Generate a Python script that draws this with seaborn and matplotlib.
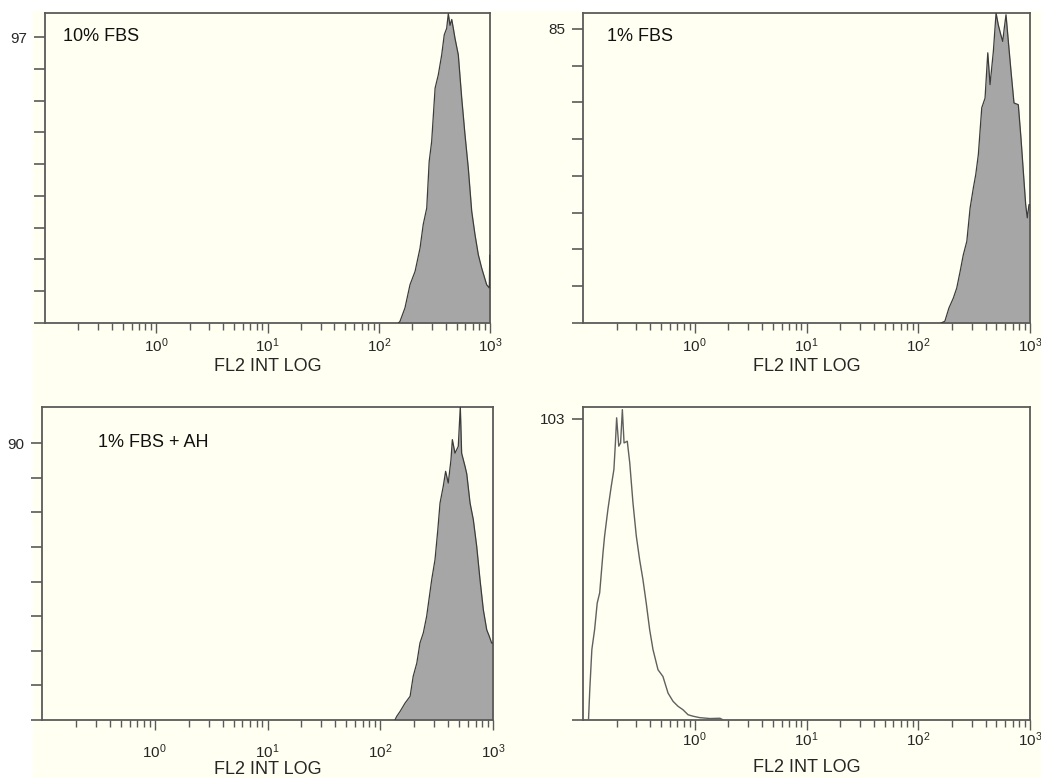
import numpy as np
import matplotlib.pyplot as plt
import matplotlib.ticker as mticker
from matplotlib.patches import Rectangle
import seaborn as sns

sns.set_style("ticks")
plt.rcParams["font.family"] = ["Liberation Sans", "DejaVu Sans"]
plt.rcParams["mathtext.default"] = "regular"

CREAM = "#FFFFF2"
FILL = "#A6A6A6"
EDGE = "#3C3C3C"
SPINE = "#5A5A5A"

# ---- data (FL2 intensity, cell count) ----
fbs10_x = [150, 155, 172, 191, 212, 235, 251, 270, 284, 299, 321, 343, 368,
           388, 408, 422, 437, 453, 468, 484, 519, 557, 596, 638, 685, 733,
           785, 841, 933, 986, 995, 999]
fbs10_y = [0, 0.5, 5.1, 13.0, 17.5, 25.4, 33.4, 39.0, 54.8, 61.6, 79.7, 84.2,
           91.0, 97.8, 100.0, 105.0, 101.0, 103.0, 100.0, 96.7, 91.0, 76.3,
           63.9, 52.6, 37.9, 30.0, 23.2, 18.7, 13.0, 11.9, 23.0, 23.0]

fbs1_x = [160, 173, 188, 206, 221, 237, 253, 272, 291, 311, 327, 345, 370,
          396, 419, 439, 470, 497, 520, 547, 570, 589, 610, 640, 676, 719,
          786, 830, 871, 915, 946, 979, 999]
fbs1_y = [0, 0.5, 4.3, 7.2, 10.1, 14.9, 19.7, 23.6, 33.2, 39.0, 42.9, 48.7,
          62.2, 65.0, 78.1, 68.9, 78.5, 89.6, 86.2, 83.4, 81.4, 85.3, 89.1,
          81.4, 72.8, 63.6, 63.1, 53.5, 43.9, 34.2, 30.4, 34.2, 34.2]

fbs1ah_x = [135, 140, 150, 166, 184, 196, 211, 225, 241, 258, 286, 306, 324,
            339, 362, 380, 401, 424, 436, 460, 492, 513, 527, 565, 585, 626,
            669, 717, 767, 821, 880, 927, 973, 999]
fbs1ah_y = [0, 1.2, 2.8, 5.5, 7.7, 14.2, 18.5, 25.0, 28.3, 33.7, 45.6, 52.1,
            61.8, 70.5, 75.9, 80.8, 77.0, 84.6, 91.1, 86.7, 88.9, 101.9, 86.7,
            82.4, 80.0, 70.5, 65.1, 56.4, 45.6, 35.8, 29.3, 27.2, 25.0, 25.0]

ctrl_x = [0.112, 0.115, 0.120, 0.127, 0.134, 0.141, 0.151, 0.156, 0.167,
          0.179, 0.189, 0.195, 0.200, 0.209, 0.217, 0.225, 0.233, 0.249,
          0.262, 0.280, 0.300, 0.321, 0.344, 0.368, 0.395, 0.423, 0.469,
          0.519, 0.577, 0.639, 0.708, 0.785, 0.871, 0.964, 1.11, 1.37, 1.68,
          1.80]
ctrl_y = [0, 10.4, 24.1, 30.9, 40.0, 43.5, 57.2, 62.9, 72.0, 80.0, 85.7,
          94.8, 103.4, 93.7, 94.8, 106.2, 94.8, 95.4, 88.0, 74.3, 62.9, 54.9,
          48.0, 40.0, 30.9, 24.1, 17.2, 14.9, 9.2, 6.4, 4.7, 3.5, 1.8, 1.3,
          0.8, 0.5, 0.6, 0]

labels = ["10% FBS", "1% FBS", "1% FBS + AH", ""]
ymax_label = [97, 85, 90, 103]
n_yticks = [9, 8, 8, 1]
ytop = [105.2, 89.6, 101.7, 107.1]
filled = [True, True, True, False]
series_x = [fbs10_x, fbs1_x, fbs1ah_x, ctrl_x]
series_y = [fbs10_y, fbs1_y, fbs1ah_y, ctrl_y]
decade_ticks = [1, 10, 100, 1000]
decade_labels = [r"$10^0$", r"$10^1$", r"$10^2$", r"$10^3$"]

W, H = 1041, 778
fig = plt.figure(figsize=(W / 100, H / 100), dpi=100)
fig.patch.set_facecolor("white")
fig.add_artist(Rectangle((33 / W, 0), 1, (H - 11) / H, transform=fig.transFigure,
                         facecolor=CREAM, edgecolor="none", zorder=-10))

# axes boxes in pixels: left, right, top, bottom
boxes = [(45, 490, 13, 323), (583, 1030, 13, 323),
         (42, 493, 407, 720), (583, 1030, 407, 720)]
text_pos = [(0.040, 0.923), (0.054, 0.923), (0.124, 0.885), (0, 0)]
tick_pad = [3.0, 3.0, 9.0, 0.3]
xlabel_off = [44, 44, 50, 48]

for i, (l, r, t, b) in enumerate(boxes):
    ax = fig.add_axes([l / W, 1 - b / H, (r - l) / W, (b - t) / H])
    ax.set_facecolor(CREAM)
    ax.set_xscale("log")
    x = np.array(series_x[i])
    y = np.array(series_y[i])
    if filled[i]:
        ax.fill_between(x, y, 0, color=FILL, lw=0, zorder=2)
        sns.lineplot(x=x, y=y, ax=ax, color=EDGE, lw=0.9, sort=False,
                     estimator=None, zorder=3)
    else:
        sns.lineplot(x=x, y=y, ax=ax, color="#606060", lw=1.0, sort=False,
                     estimator=None, zorder=3)
    ax.set_xlim(0.1, 1000)
    ax.set_ylim(0, ytop[i])

    # x axis: decades and minor ticks
    ax.xaxis.set_major_locator(mticker.FixedLocator(decade_ticks))
    ax.xaxis.set_major_formatter(mticker.FixedFormatter(decade_labels))
    ax.xaxis.set_minor_locator(mticker.LogLocator(base=10, subs=np.arange(2, 10)))
    ax.xaxis.set_minor_formatter(mticker.NullFormatter())
    ax.tick_params(axis="x", which="major", length=7, width=1.0, color=SPINE,
                   labelsize=11, pad=tick_pad[i], direction="out")
    ax.tick_params(axis="x", which="minor", length=5, width=1.0, color=SPINE,
                   direction="out")

    # y axis: evenly spaced ticks, only the top one labelled
    yt = np.linspace(0, ymax_label[i], n_yticks[i] + 1)
    ax.set_yticks(yt)
    ax.set_yticklabels([""] * n_yticks[i] + [str(ymax_label[i])])
    ax.tick_params(axis="y", which="major", length=8, width=1.2, color=SPINE,
                   labelsize=11, pad=5, direction="out")
    ax.yaxis.set_minor_locator(mticker.NullLocator())

    for s in ax.spines.values():
        s.set_color(SPINE)
        s.set_linewidth(1.3)
        s.set_visible(True)

    ax.set_ylabel("")
    ax.set_xlabel("FL2 INT LOG", fontsize=13)
    ax.xaxis.set_label_coords(0.5, -xlabel_off[i] / (b - t))
    ax.xaxis.label.set_va("center")

    if labels[i]:
        ax.text(text_pos[i][0], text_pos[i][1], labels[i], transform=ax.transAxes,
                fontsize=13, ha="left", va="center", color="#111111")

fig.savefig("out.png", dpi=100, facecolor=fig.get_facecolor())
